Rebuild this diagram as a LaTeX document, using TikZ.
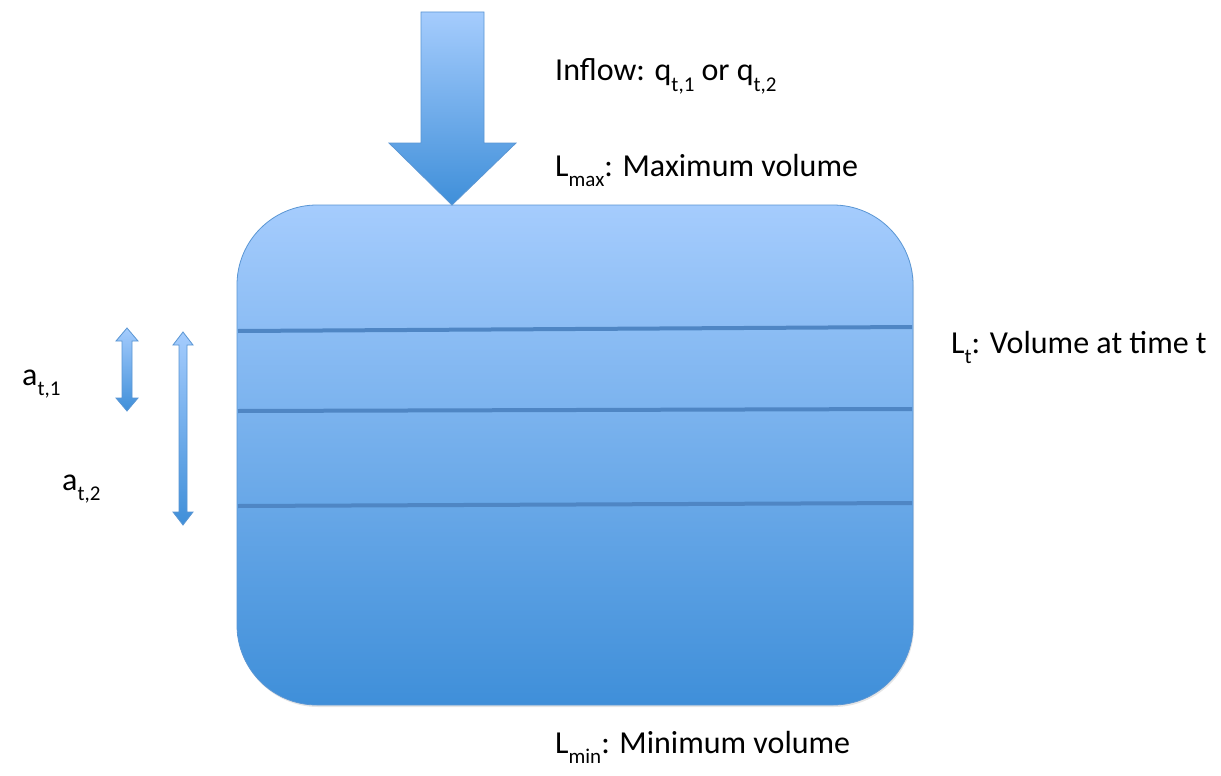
\documentclass[tikz,border=0pt]{standalone}
\usepackage{fontspec}
\setmainfont{Carlito}
\usetikzlibrary{shadows}
\definecolor{lightb}{HTML}{A5CCFD}
\definecolor{darkb}{HTML}{3F8FD9}
\definecolor{edgeb}{HTML}{5A96D4}
\definecolor{lineb}{HTML}{4F86C4}
\newcommand\sbs[1]{\raisebox{-0.32em}{\fontsize{21}{21}\selectfont #1}}
\tikzset{
  lbl/.style={anchor=base west, inner sep=0pt, font=\fontsize{32}{36}\selectfont, text=black},
  bluefill/.style={top color=lightb, bottom color=darkb, draw=edgeb, line width=0.8pt},
  level/.style={draw=lineb, line width=4pt},
}
\begin{document}
\begin{tikzpicture}[x=1pt,y=-1pt]
\useasboundingbox (0,0) rectangle (1221,776);
\fill[white] (0,0) rectangle (1221,776);
% tank
\node (tank) [bluefill, rounded corners=80pt, minimum width=676pt, minimum height=500pt, inner sep=0pt, drop shadow={shadow xshift=1pt, shadow yshift=-2pt, opacity=0.2}] at (575,455) {};
% levels
\coordinate (l1w) at (238,331); \coordinate (l1e) at (912,327);
\coordinate (l2w) at (238,411); \coordinate (l2e) at (912,409);
\coordinate (l3w) at (238,506); \coordinate (l3e) at (912,503);
\draw[level] (l1w) -- (l1e);
\draw[level] (l2w) -- (l2e);
\draw[level] (l3w) -- (l3e);
% inflow arrow
\path[bluefill] (421,12) -- (484,12) -- (484,143) -- (516,143) -- (452,205) -- (389,143) -- (421,143) -- cycle;
% double arrows
\path[bluefill] (127,328) -- (138,341) -- (132,341) -- (132,398) -- (138,398) -- (127,411) -- (116,398) -- (122,398) -- (122,341) -- (116,341) -- cycle;
\path[bluefill] (183,332) -- (193,345) -- (187,345) -- (187,512) -- (193,512) -- (183,525) -- (173,512) -- (179,512) -- (179,345) -- (173,345) -- cycle;
% labels
\node[lbl] (inflow) at (555,81) {Inflow: q\sbs{t,1} or q\sbs{t,2}};
\node[lbl] (lmax) at (555,176) {L\sbs{max}: Maximum volume};
\node[lbl] (lt) at (951,353) {L\sbs{t}: Volume at time t};
\node[lbl] (lmin) at (555,753) {L\sbs{min}: Minimum volume};
\node[lbl] (a1) at (22,385) {a\sbs{t,1}};
\node[lbl] (a2) at (62,490) {a\sbs{t,2}};
\end{tikzpicture}
\end{document}
